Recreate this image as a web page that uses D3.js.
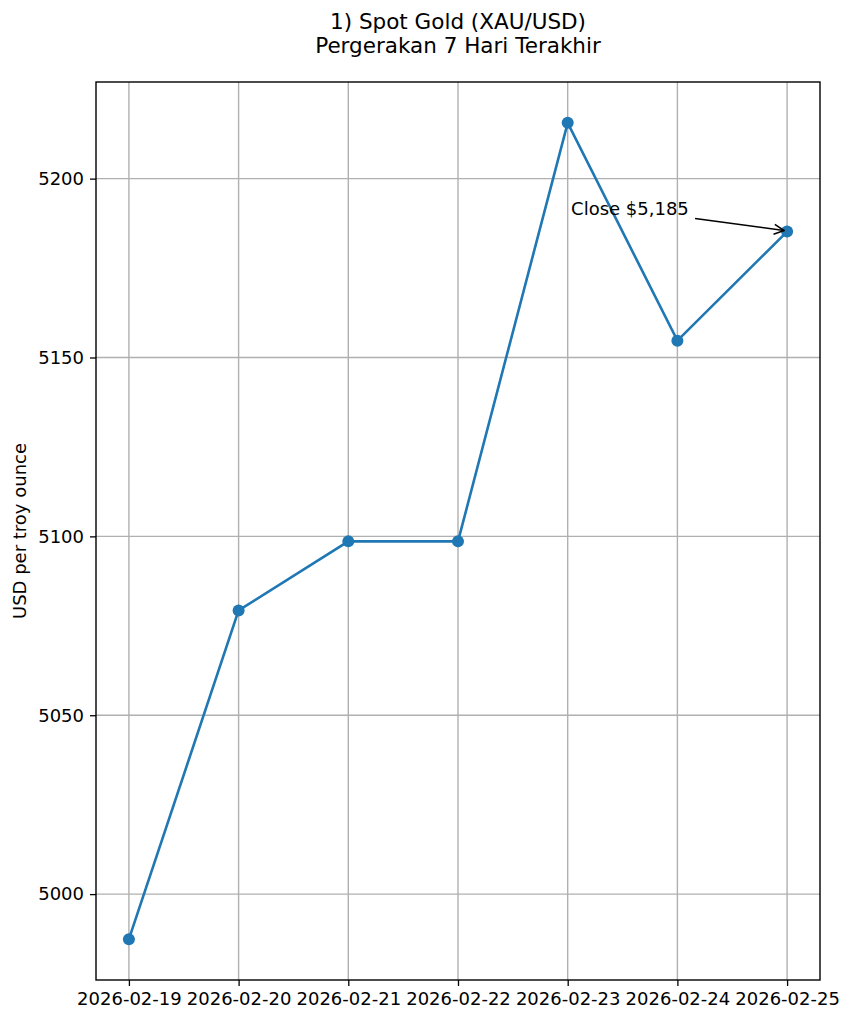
<!DOCTYPE html>
<html>
<head>
<meta charset="utf-8">
<script src="https://cdn.jsdelivr.net/npm/d3@7"></script>
<style>
  body { margin: 0; background: #fff; }
  svg { font-family: "DejaVu Sans", sans-serif; }
</style>
</head>
<body>
<div id="chart"></div>
<script>
'use strict';

const dates = ["2026-02-19", "2026-02-20", "2026-02-21", "2026-02-22", "2026-02-23", "2026-02-24", "2026-02-25"];
const prices = [4987.4, 5079.3, 5098.6, 5098.6, 5215.6, 5154.7, 5185.2];
const yTicks = [5000, 5050, 5100, 5150, 5200];
const titleLines = ["1) Spot Gold (XAU/USD)", "Pergerakan 7 Hari Terakhir"];
const yLabel = "USD per troy ounce";
const closeLabel = "Close $5,185";

const width = 852;
const height = 1024;
const margin = { top: 82, right: 32, bottom: 44, left: 96 };
const blue = "#1f77b4";

const svg = d3.select("#chart").append("svg")
    .attr("width", width)
    .attr("height", height);

const parse = d3.timeParse("%Y-%m-%d");
const pts = dates.map((d, i) => ({ date: parse(d), label: d, value: prices[i] }));

// matplotlib-style 5% padding
const xExt = d3.extent(pts, d => d.date);
const xPad = (xExt[1] - xExt[0]) * 0.05;
const x = d3.scaleTime()
    .domain([new Date(+xExt[0] - xPad), new Date(+xExt[1] + xPad)])
    .range([margin.left, width - margin.right]);

const yExt = d3.extent(prices);
const yPad = (yExt[1] - yExt[0]) * 0.05;
const y = d3.scaleLinear()
    .domain([yExt[0] - yPad, yExt[1] + yPad])
    .range([height - margin.bottom, margin.top]);

// grid
svg.append("g")
    .selectAll("line.vg")
    .data(pts)
    .join("line")
    .attr("x1", d => x(d.date)).attr("x2", d => x(d.date))
    .attr("y1", margin.top).attr("y2", height - margin.bottom)
    .attr("stroke", "#b0b0b0").attr("stroke-width", 1.4);
svg.append("g")
    .selectAll("line.hg")
    .data(yTicks)
    .join("line")
    .attr("x1", margin.left).attr("x2", width - margin.right)
    .attr("y1", d => y(d)).attr("y2", d => y(d))
    .attr("stroke", "#b0b0b0").attr("stroke-width", 1.4);

// axes
const xAxis = svg.append("g")
    .attr("transform", `translate(0,${height - margin.bottom})`)
    .call(d3.axisBottom(x).tickValues(pts.map(d => d.date)).tickFormat(d3.timeFormat("%Y-%m-%d")).tickSize(6).tickPadding(6));
const yAxis = svg.append("g")
    .attr("transform", `translate(${margin.left},0)`)
    .call(d3.axisLeft(y).tickValues(yTicks).tickFormat(d3.format("d")).tickSize(6).tickPadding(6));
[xAxis, yAxis].forEach(g => {
    g.select(".domain").remove();
    g.selectAll("line").attr("stroke", "#000").attr("stroke-width", 1.3);
    g.selectAll("text").attr("fill", "#000").style("font-size", "18px").style("font-family", "DejaVu Sans");
});

// frame
svg.append("rect")
    .attr("x", margin.left).attr("y", margin.top)
    .attr("width", width - margin.left - margin.right)
    .attr("height", height - margin.top - margin.bottom)
    .attr("fill", "none").attr("stroke", "#000").attr("stroke-width", 1.4);

// line + markers
const line = d3.line().x(d => x(d.date)).y(d => y(d.value));
svg.append("path")
    .attr("d", line(pts))
    .attr("fill", "none").attr("stroke", blue).attr("stroke-width", 2.6);
svg.append("g")
    .selectAll("circle")
    .data(pts)
    .join("circle")
    .attr("cx", d => x(d.date)).attr("cy", d => y(d.value))
    .attr("r", 6).attr("fill", blue);

// annotation on last point
const last = pts[pts.length - 1];
const lx = x(last.date), ly = y(last.value);
svg.append("defs").append("marker")
    .attr("id", "arr").attr("viewBox", "0 0 12 12")
    .attr("refX", 11).attr("refY", 6)
    .attr("markerWidth", 12).attr("markerHeight", 12)
    .attr("markerUnits", "userSpaceOnUse")
    .attr("orient", "auto")
    .append("path").attr("d", "M1,1 L11,6 L1,11")
    .attr("fill", "none").attr("stroke", "#000").attr("stroke-width", 1.5);
svg.append("line")
    .attr("x1", lx - 92).attr("y1", ly - 13)
    .attr("x2", lx - 3).attr("y2", ly - 1)
    .attr("stroke", "#000").attr("stroke-width", 1.5)
    .attr("marker-end", "url(#arr)");
svg.append("text")
    .attr("x", lx - 216).attr("y", ly - 17)
    .style("font-size", "18px")
    .text(closeLabel);

// y label
svg.append("text")
    .attr("transform", `translate(26,${(margin.top + height - margin.bottom) / 2}) rotate(-90)`)
    .attr("text-anchor", "middle")
    .style("font-size", "18px")
    .text(yLabel);

// title
svg.append("g").selectAll("text")
    .data(titleLines)
    .join("text")
    .attr("x", (margin.left + width - margin.right) / 2)
    .attr("y", (d, i) => 29 + i * 24)
    .attr("text-anchor", "middle")
    .style("font-size", "21.5px")
    .text(d => d);
</script>
</body>
</html>
